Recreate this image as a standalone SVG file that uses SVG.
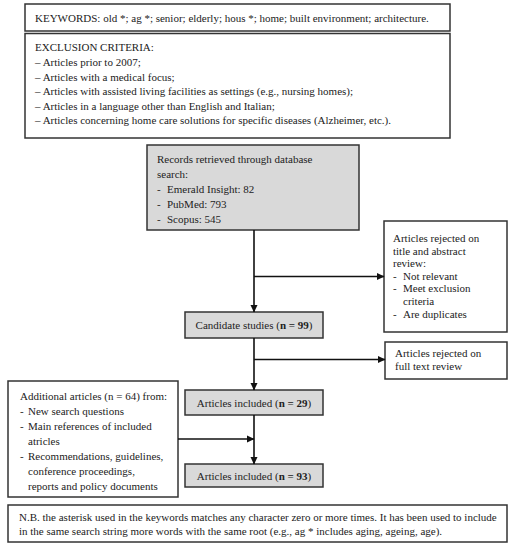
<svg xmlns="http://www.w3.org/2000/svg" width="514" height="550" viewBox="0 0 514 550">
<style>
.box{fill:#fff;stroke:#333;stroke-width:1.5}
.gbox{fill:#d9d9d9;stroke:#333;stroke-width:1.5}
text{font-family:"Liberation Serif","Times New Roman",serif;font-size:11px;fill:#222}
.c{text-anchor:middle}
.b{font-weight:bold}
.con{stroke:#111;stroke-width:1.6;fill:none;marker-end:url(#ah)}
</style>
<defs>
<marker id="ah" markerWidth="8" markerHeight="8" refX="7" refY="4" orient="auto" markerUnits="userSpaceOnUse">
<path d="M0,0.5 L7.5,4 L0,7.5 Z" fill="#111"/>
</marker>
</defs>
<rect width="514" height="550" fill="#fff"/>
<g id="keywords">
<rect class="box" x="25" y="4" width="425" height="27"/>
<text x="35" y="22">KEYWORDS: old *; ag *; senior; elderly; hous *; home; built environment; architecture.</text>
</g>
<g id="exclusion">
<rect class="box" x="25" y="33.5" width="425" height="104.5"/>
<text x="35" y="51">EXCLUSION CRITERIA:</text>
<text x="35" y="66">– Articles prior to 2007;</text>
<text x="35" y="80.5">– Articles with a medical focus;</text>
<text x="35" y="95">– Articles with assisted living facilities as settings (e.g., nursing homes);</text>
<text x="35" y="109.5">– Articles in a language other than English and Italian;</text>
<text x="35" y="124">– Articles concerning home care solutions for specific diseases (Alzheimer, etc.).</text>
</g>
<g id="records">
<rect class="gbox" x="147" y="145" width="212" height="85"/>
<text x="157" y="163">Records retrieved through database</text>
<text x="157" y="178">search:</text>
<text x="157" y="193">-</text><text x="167" y="193">Emerald Insight: 82</text>
<text x="157" y="208">-</text><text x="167" y="208">PubMed: 793</text>
<text x="157" y="223">-</text><text x="167" y="223">Scopus: 545</text>
</g>
<g id="rejected1">
<rect class="box" x="384" y="221" width="123" height="111"/>
<text x="393" y="242">Articles rejected on</text>
<text x="393" y="254.5">title and abstract</text>
<text x="393" y="267">review:</text>
<text x="393" y="279.5">-</text><text x="403" y="279.5">Not relevant</text>
<text x="393" y="292">-</text><text x="403" y="292">Meet exclusion</text>
<text x="403" y="304.5">criteria</text>
<text x="393" y="318">-</text><text x="403" y="318">Are duplicates</text>
</g>
<g id="candidate">
<rect class="gbox" x="185" y="312" width="138" height="26"/>
<text class="c" x="254" y="329">Candidate studies (<tspan class="b">n = 99</tspan>)</text>
</g>
<g id="rejected2">
<rect class="box" x="385" y="342" width="122" height="37"/>
<text x="395" y="357">Articles rejected on</text>
<text x="395" y="370">full text review</text>
</g>
<g id="additional">
<rect class="box" x="8" y="381" width="170" height="116"/>
<text x="20" y="399.5">Additional articles (n = 64) from:</text>
<text x="20" y="414.5">-</text><text x="28" y="414.5">New search questions</text>
<text x="20" y="429.5">-</text><text x="28" y="429.5">Main references of included</text>
<text x="28" y="444.5">atricles</text>
<text x="20" y="459.5">-</text><text x="28" y="459.5">Recommendations, guidelines,</text>
<text x="28" y="474.5">conference proceedings,</text>
<text x="28" y="489.5">reports and policy documents</text>
</g>
<g id="included29">
<rect class="gbox" x="185" y="390" width="138" height="25"/>
<text class="c" x="254" y="406.5">Articles included (<tspan class="b">n = 29</tspan>)</text>
</g>
<g id="included93">
<rect class="gbox" x="185" y="464" width="138" height="23"/>
<text class="c" x="254" y="479.5">Articles included (<tspan class="b">n = 93</tspan>)</text>
</g>
<g id="note">
<rect class="box" x="8" y="505" width="499" height="37"/>
<text x="19" y="520.5">N.B. the asterisk used in the keywords matches any character zero or more times. It has been used to include</text>
<text x="19" y="534.5">in the same search string more words with the same root (e.g., ag * includes aging, ageing, age).</text>
</g>
<g id="connectors">
<line class="con" x1="254" y1="230" x2="254" y2="312"/>
<line class="con" x1="254" y1="276.5" x2="384" y2="276.5"/>
<line class="con" x1="254" y1="338" x2="254" y2="390"/>
<line class="con" x1="254" y1="359.5" x2="385" y2="359.5"/>
<line class="con" x1="254" y1="415" x2="254" y2="464"/>
<line class="con" x1="178" y1="439" x2="254" y2="439"/>
</g>
</svg>
